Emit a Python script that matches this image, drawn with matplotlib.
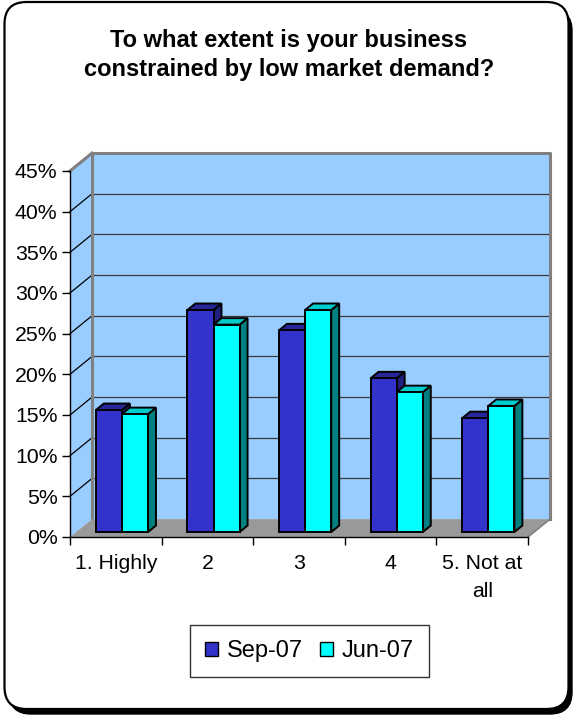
import matplotlib
matplotlib.use("Agg")
import matplotlib.pyplot as plt
from matplotlib.patches import Polygon, Rectangle, FancyBboxPatch
from matplotlib.lines import Line2D
from matplotlib.transforms import offset_copy

plt.rcParams['font.family'] = ['Liberation Sans', 'DejaVu Sans']

# ---- data -------------------------------------------------------------
title = "To what extent is your business\nconstrained by low market demand?"
categories = ["1. Highly", "2", "3", "4", "5. Not at\nall"]
series_names = ["Sep-07", "Jun-07"]
sep07 = [15.0, 27.3, 24.8, 18.9, 14.0]
jun07 = [14.5, 25.5, 27.3, 17.2, 15.5]
y_ticks = [0, 5, 10, 15, 20, 25, 30, 35, 40, 45]

# ---- style ------------------------------------------------------------
face_cols = ["#3333CC", "#00FFFF"]
top_cols = ["#262699", "#00CCCC"]
side_cols = ["#1F1F80", "#008080"]
wall_col = "#99CCFF"
floor_col = "#999999"
edge_gray = "#808080"

# depth of the box in data units (x: categories, y: percent)
DX, DY = 0.24, 2.2
BAR_W = 0.285
BAR_POS = 0.28     # depth fraction where bars stand
BAR_DEPTH = 0.36   # depth fraction of a bar

fig = plt.figure(figsize=(5.78, 7.18), dpi=100)

# rounded frame with drop shadow
shadow = FancyBboxPatch((0.09, 0.04), 5.63, 7.05,
                        boxstyle="round,pad=0,rounding_size=0.22",
                        transform=fig.dpi_scale_trans, facecolor="black",
                        edgecolor="black", lw=1, zorder=-2)
frame = FancyBboxPatch((0.045, 0.09), 5.64, 7.07,
                       boxstyle="round,pad=0,rounding_size=0.22",
                       transform=fig.dpi_scale_trans, facecolor="white",
                       edgecolor="black", lw=1.6, zorder=-1)
fig.patches.extend([shadow, frame])

fig.text(289 / 578, 1 - 55 / 718, title, ha="center", va="center",
         fontsize=17, fontweight="bold", linespacing=1.3)

ax = fig.add_axes([70 / 578, 1 - 537 / 718, 458 / 578, 366 / 718])
ax.set_zorder(2)
ax.set_xlim(0, 5)
ax.set_ylim(0, 45)
ax.patch.set_visible(False)
for s in ("top", "right"):
    ax.spines[s].set_visible(False)
for s in ("left", "bottom"):
    ax.spines[s].set_color("black")
    ax.spines[s].set_linewidth(1.0)
    ax.spines[s].set_zorder(6)

ax.set_yticks(y_ticks)
ax.set_yticklabels([f"{v}%" for v in y_ticks])
ax.set_xticks(range(len(categories) + 1))
ax.set_xticklabels([])
ax.tick_params(axis="y", direction="out", length=6, width=1, pad=3,
               labelsize=15.3, color="black")
ax.tick_params(axis="x", which="major", direction="out", length=6, width=1)

# category labels centred under each group
lbl_trans = offset_copy(ax.get_xaxis_transform(), fig=fig, y=-12.5, units="points")
for i, name in enumerate(categories):
    ax.text(i + 0.5, 0, name, transform=lbl_trans, ha="center", va="top",
            fontsize=15.3, linespacing=1.6, clip_on=False)

n = len(categories)
ymax = y_ticks[-1]

# back wall
ax.add_patch(Polygon([(DX, DY), (n + DX, DY), (n + DX, ymax + DY), (DX, ymax + DY)],
                     closed=True, facecolor=wall_col, edgecolor="none",
                     zorder=1, clip_on=False))
# left side wall
ax.add_patch(Polygon([(0, 0), (DX, DY), (DX, ymax + DY), (0, ymax)],
                     closed=True, facecolor=wall_col, edgecolor="none",
                     zorder=1, clip_on=False))
# floor
ax.add_patch(Polygon([(0, 0), (n, 0), (n + DX, DY), (DX, DY)],
                     closed=True, facecolor=floor_col, edgecolor="none",
                     zorder=1.5, clip_on=False))
ax.add_line(Line2D([n, n + DX], [0, DY], color=edge_gray, lw=1.2,
                   zorder=1.6, clip_on=False))

# gridlines on back wall and side wall
for v in y_ticks[1:-1]:
    ax.add_line(Line2D([DX, n + DX], [v + DY, v + DY], color="#3a3a3a",
                       lw=0.9, zorder=1.2, clip_on=False))
for v in y_ticks[1:]:
    ax.add_line(Line2D([0, DX], [v, v + DY], color="black",
                       lw=0.9, zorder=1.2, clip_on=False))

# wall outlines
ax.add_line(Line2D([DX, DX, n + DX, n + DX], [DY, ymax + DY, ymax + DY, DY],
                   color=edge_gray, lw=2.2, zorder=1.3, clip_on=False))
ax.add_line(Line2D([0, DX], [ymax, ymax + DY], color=edge_gray, lw=2.2,
                   zorder=1.3, clip_on=False))

# 3-D columns
ox, oy = BAR_POS * DX, BAR_POS * DY
bx, by = BAR_DEPTH * DX, BAR_DEPTH * DY
for s, vals in enumerate([sep07, jun07]):
    for i, v in enumerate(vals):
        xl = i + 0.5 - BAR_W + s * BAR_W + ox
        xr = xl + BAR_W
        y0, y1 = oy, v + oy
        kw = dict(closed=True, edgecolor="black", lw=1.4, zorder=3 + s,
                  joinstyle="miter", clip_on=False)
        ax.add_patch(Polygon([(xr, y0), (xr + bx, y0 + by), (xr + bx, y1 + by), (xr, y1)],
                             facecolor=side_cols[s], **kw))
        ax.add_patch(Polygon([(xl, y1), (xr, y1), (xr + bx, y1 + by), (xl + bx, y1 + by)],
                             facecolor=top_cols[s], **kw))
        ax.add_patch(Polygon([(xl, y0), (xr, y0), (xr, y1), (xl, y1)],
                             facecolor=face_cols[s], **kw))

# legend
handles = [Rectangle((0, 0), 1, 1, facecolor=face_cols[k], edgecolor="black", lw=1)
           for k in range(2)]
leg = fig.legend(handles, series_names, loc="center",
                 bbox_to_anchor=(309.5 / 578, 1 - 651 / 718),
                 ncol=2, fontsize=17, frameon=True, fancybox=False,
                 handlelength=0.55, handleheight=0.55, handletextpad=0.35,
                 columnspacing=0.75, borderpad=0.65, borderaxespad=0)
leg.get_frame().set_edgecolor("black")
leg.get_frame().set_linewidth(1.0)
leg.set_zorder(3)

fig.savefig("out.png", dpi=100)
